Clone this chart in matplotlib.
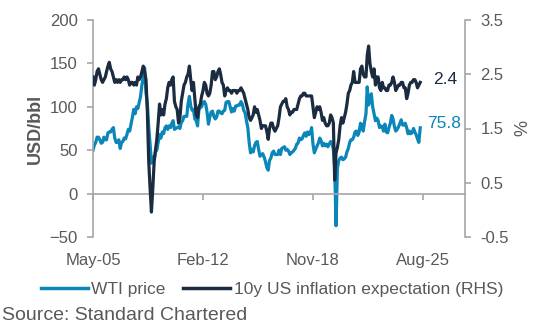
import matplotlib
matplotlib.use("Agg")
import matplotlib.pyplot as plt
import matplotlib.dates as mdates
from matplotlib.lines import Line2D
import pandas as pd

plt.rcParams['font.family'] = ['Liberation Sans', 'DejaVu Sans']

start_month = "2005-05-01"

wti = [
    50, 56, 59, 65, 65, 62, 58, 59,
    65, 62, 62, 70, 71, 71, 74, 76, 64, 59, 59, 62,
    52, 59, 60, 64, 63, 68, 74, 72, 80, 88, 97, 92,
    100, 98, 105, 112, 125, 134, 145, 116, 104, 77, 57, 35,
    42, 39, 48, 50, 59, 68, 64, 71, 69, 76, 78, 74,
    78, 76, 81, 84, 74, 75, 76, 77, 75, 82, 84, 89,
    89, 89, 103, 112, 101, 96, 97, 86, 84, 78, 97, 99,
    100, 105, 106, 103, 94, 80, 88, 94, 95, 89, 86, 88,
    95, 95, 93, 92, 95, 96, 105, 106, 106, 100, 94, 98,
    95, 101, 101, 102, 102, 106, 103, 96, 93, 84, 76, 59,
    47, 51, 48, 55, 59, 60, 51, 43, 45, 46, 42, 37,
    30, 27, 38, 41, 47, 49, 45, 45, 45, 50, 45, 52,
    53, 54, 50, 51, 49, 45, 47, 48, 50, 52, 57, 58,
    64, 62, 63, 67, 70, 66, 71, 68, 70, 76, 57, 47,
    51, 55, 58, 64, 61, 55, 58, 55, 57, 54, 57, 60,
    58, 51, 30, -37, 29, 38, 41, 42, 39, 40, 42, 48,
    52, 59, 62, 62, 65, 71, 72, 67, 71, 81, 79, 72,
    83, 92, 123, 102, 110, 115, 100, 92, 84, 87, 84, 76,
    78, 77, 72, 80, 71, 70, 76, 81, 90, 86, 77, 72,
    74, 77, 81, 85, 79, 79, 81, 76, 69, 72, 69, 70,
    75, 71, 68, 63, 59, 75.8,
]

breakeven = [
    2.45, 2.30, 2.40, 2.55, 2.60, 2.50, 2.40, 2.35,
    2.40, 2.45, 2.55, 2.65, 2.72, 2.60, 2.55, 2.45, 2.35, 2.40, 2.35, 2.40,
    2.35, 2.40, 2.40, 2.45, 2.40, 2.45, 2.40, 2.30, 2.35, 2.35, 2.30, 2.35,
    2.30, 2.45, 2.40, 2.45, 2.55, 2.65, 2.55, 2.40, 1.80, 0.90, 0.40, -0.04,
    0.40, 0.90, 1.10, 1.30, 1.60, 1.95, 1.75, 1.85, 1.75, 1.95, 2.05, 2.25,
    2.35, 2.30, 2.40, 2.45, 2.00, 1.90, 1.85, 1.60, 1.70, 2.00, 2.15, 2.30,
    2.35, 2.45, 2.50, 2.65, 2.40, 2.20, 2.35, 2.05, 1.75, 1.70, 1.90, 1.95,
    2.10, 2.20, 2.35, 2.30, 2.15, 2.10, 2.15, 2.30, 2.55, 2.55, 2.40, 2.45,
    2.55, 2.60, 2.50, 2.35, 2.30, 2.10, 2.20, 2.25, 2.20, 2.20, 2.15, 2.20,
    2.20, 2.20, 2.15, 2.20, 2.20, 2.25, 2.20, 2.15, 2.05, 1.95, 1.85, 1.70,
    1.65, 1.70, 1.75, 1.90, 1.80, 1.85, 1.75, 1.65, 1.50, 1.55, 1.55, 1.55,
    1.45, 1.30, 1.50, 1.60, 1.60, 1.50, 1.45, 1.50, 1.55, 1.70, 1.90, 1.95,
    2.00, 2.00, 2.05, 1.90, 1.85, 1.75, 1.80, 1.80, 1.85, 1.85, 1.85, 1.95,
    2.05, 2.10, 2.10, 2.15, 2.15, 2.10, 2.10, 2.10, 2.10, 2.10, 1.90, 1.70,
    1.80, 1.90, 1.85, 1.90, 1.80, 1.65, 1.70, 1.60, 1.55, 1.55, 1.60, 1.75,
    1.70, 1.60, 0.55, 1.05, 1.15, 1.30, 1.55, 1.70, 1.60, 1.70, 1.80, 1.95,
    2.15, 2.20, 2.30, 2.35, 2.55, 2.35, 2.35, 2.35, 2.35, 2.60, 2.65, 2.50,
    2.45, 2.45, 2.85, 3.02, 2.70, 2.55, 2.45, 2.60, 2.30, 2.45, 2.45, 2.25,
    2.20, 2.35, 2.25, 2.25, 2.20, 2.20, 2.30, 2.30, 2.35, 2.45, 2.35, 2.20,
    2.25, 2.30, 2.30, 2.35, 2.35, 2.25, 2.25, 2.05, 2.15, 2.30, 2.35, 2.35,
    2.40, 2.40, 2.35, 2.25, 2.30, 2.35,
]

x_ticks = ["2005-05-01", "2012-02-01", "2018-11-01", "2025-08-01"]
x_end = "2028-03-01"
left_ticks = [-50, 0, 50, 100, 150, 200]
right_ticks = [-0.5, 0.5, 1.5, 2.5, 3.5]
end_labels = ["75.8", "2.4"]

dates = pd.date_range(start_month, periods=len(wti), freq="MS")

TEAL = "#0a86b8"
NAVY = "#1b2b40"
GREY = "#595959"
AX = "#a6a6a6"

fig = plt.figure(figsize=(5.37, 3.32), dpi=100)
ax = fig.add_axes([93/537, 1-237/332, (465-93)/537, (237-20)/332])
ax2 = ax.twinx()

ax.plot(dates, wti, color=TEAL, lw=2.3, solid_joinstyle="round")
ax2.plot(dates, breakeven, color=NAVY, lw=2.3, solid_joinstyle="round")

ax.set_ylim(-50, 200)
ax.set_yticks(left_ticks)
ax2.set_ylim(-0.5, 3.5)
ax2.set_yticks(right_ticks)
ax.set_xlim(pd.Timestamp(x_ticks[0]), pd.Timestamp(x_end))
ax.set_xticks([pd.Timestamp(t) for t in x_ticks])
ax.xaxis.set_major_formatter(mdates.DateFormatter("%b-%y"))

for a in (ax, ax2):
    a.spines["top"].set_visible(False)
    a.spines["left"].set_color(AX)
    a.spines["right"].set_color(AX)
    a.spines["bottom"].set_visible(False)
    a.spines["left"].set_linewidth(1.2)
    a.spines["right"].set_linewidth(1.2)
ax.spines["right"].set_visible(False)
ax2.spines["left"].set_visible(False)
ax.spines["bottom"].set_visible(True)
ax.spines["bottom"].set_position(("data", 0))
ax.spines["bottom"].set_color(AX)
ax.spines["bottom"].set_linewidth(1.2)

ax.tick_params(axis="y", colors=AX, labelcolor=GREY, labelsize=12, length=4, width=1.2, pad=7)
ax2.tick_params(axis="y", colors=AX, labelcolor=GREY, labelsize=12, length=4, width=1.2, pad=7)
ax.tick_params(axis="x", colors=AX, labelcolor=GREY, labelsize=12, length=4.5, width=1.2, pad=38)
ax2.yaxis.set_major_formatter(matplotlib.ticker.FormatStrFormatter("%.1f"))

ax.set_ylabel("USD/bbl", fontsize=13, color=GREY, fontweight="bold", labelpad=4)
ax2.set_ylabel("%", fontsize=13, color=GREY, labelpad=4)

ax.annotate(end_labels[0], (dates[-1], wti[-1]), xytext=(5, 3), textcoords="offset points",
            color=TEAL, fontsize=12.5, ha="left", va="center")
ax2.annotate(end_labels[1], (dates[-1], breakeven[-1]), xytext=(9, 2), textcoords="offset points",
             color=NAVY, fontsize=12.5, ha="left", va="center")

handles = [Line2D([], [], color=TEAL, lw=2.5), Line2D([], [], color=NAVY, lw=2.5)]
fig.legend(handles, ["WTI price", "10y US inflation expectation (RHS)"],
           loc="center", bbox_to_anchor=(272/537, 1-289/332), ncol=2, frameon=False,
           fontsize=12.5, handlelength=2.7, handletextpad=0.2, columnspacing=1.0,
           labelcolor=GREY, borderpad=0)

fig.text(2/537, 1-316/332, "Source: Standard Chartered", fontsize=14, color=GREY,
         ha="left", va="center")

fig.savefig("out.png", dpi=100)
